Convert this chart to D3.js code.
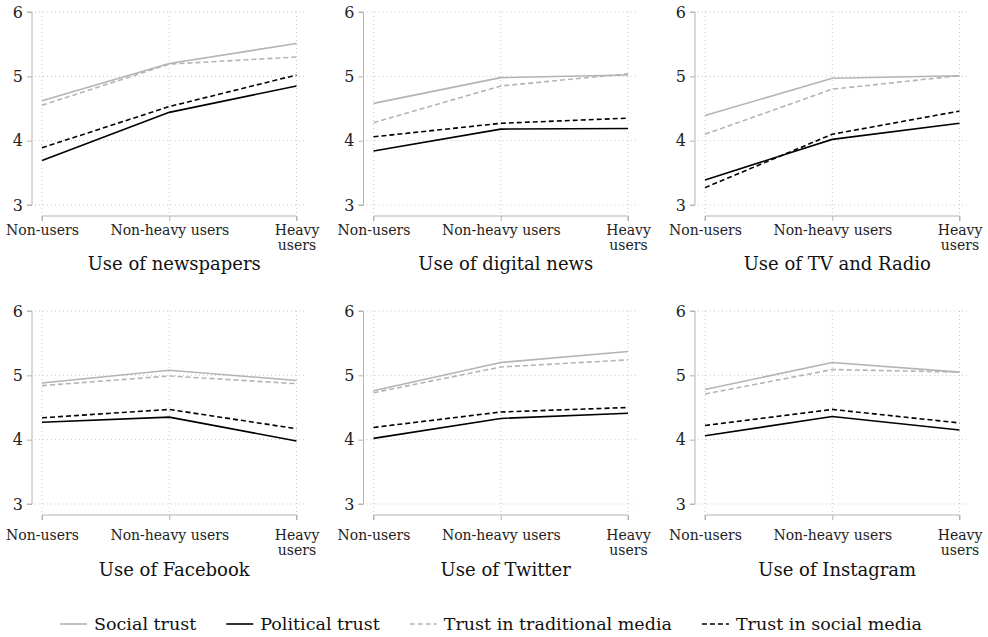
<!DOCTYPE html>
<html>
<head>
<meta charset="utf-8">
<script src="https://cdn.jsdelivr.net/npm/d3@7"></script>
<style>
  body { margin: 0; background: #fff; }
  svg { display: block; }
</style>
</head>
<body>
<div id="chart"></div>
<script>
const categories = ["Non-users", "Non-heavy users", "Heavy users"];
const panelTitles = ["Use of newspapers", "Use of digital news", "Use of TV and Radio",
                     "Use of Facebook", "Use of Twitter", "Use of Instagram"];
const yTicks = [3, 4, 5, 6];

// one row per panel, values for Non-users / Non-heavy users / Heavy users
const socialTrust = [
  [4.62, 5.20, 5.51],
  [4.58, 4.98, 5.02],
  [4.39, 4.97, 5.01],
  [4.88, 5.08, 4.92],
  [4.76, 5.20, 5.37],
  [4.78, 5.20, 5.05]
];
const politicalTrust = [
  [3.69, 4.44, 4.85],
  [3.84, 4.18, 4.19],
  [3.39, 4.02, 4.27],
  [4.27, 4.35, 3.98],
  [4.02, 4.33, 4.41],
  [4.06, 4.36, 4.15]
];
const traditionalMedia = [
  [4.55, 5.19, 5.30],
  [4.28, 4.85, 5.04],
  [4.10, 4.80, 5.01],
  [4.84, 4.99, 4.87],
  [4.73, 5.13, 5.24],
  [4.71, 5.09, 5.05]
];
const socialMedia = [
  [3.89, 4.53, 5.02],
  [4.06, 4.27, 4.35],
  [3.27, 4.10, 4.46],
  [4.34, 4.47, 4.17],
  [4.19, 4.43, 4.50],
  [4.22, 4.47, 4.26]
];

const series = [
  { name: "Social trust", values: socialTrust, color: "#b4b4b4", dash: null },
  { name: "Political trust", values: politicalTrust, color: "#000", dash: null },
  { name: "Trust in traditional media", values: traditionalMedia, color: "#b4b4b4", dash: "5,3" },
  { name: "Trust in social media", values: socialMedia, color: "#000", dash: "5,3" }
];

const W = 988, H = 637;
const font = "DejaVu Serif";
const axisGray = "#b4b4b4";

const svg = d3.select("#chart").append("svg")
  .attr("width", W).attr("height", H);

const colX = [32, 363.5, 695];
const rowY = [12, 311];
const labelPad = [4, 10];
const titleOffset = [54, 61];
const plotH = 193, plotW = 273;

panelTitles.forEach((title, i) => {
  const col = i % 3, row = Math.floor(i / 3);
  const g = svg.append("g")
    .attr("transform", `translate(${colX[col]},${rowY[row]})`);

  const x = d3.scalePoint().domain(categories).range([10, 264.5]);
  const y = d3.scaleLinear().domain([3, 6]).range([plotH, 0]);
  const axisY = plotH + 11;

  // gridlines
  g.append("g").selectAll("line.h")
    .data(yTicks).join("line")
    .attr("x1", 3).attr("x2", plotW)
    .attr("y1", d => y(d)).attr("y2", d => y(d))
    .attr("stroke", "#c8c8c8").attr("stroke-width", 1)
    .attr("stroke-dasharray", "1,3");
  g.append("g").selectAll("line.v")
    .data(categories).join("line")
    .attr("x1", d => x(d)).attr("x2", d => x(d))
    .attr("y1", 0).attr("y2", axisY)
    .attr("stroke", "#c8c8c8").attr("stroke-width", 1)
    .attr("stroke-dasharray", "1,3");

  // y axis
  const ya = g.append("g")
    .call(d3.axisLeft(y).tickValues(yTicks).tickSize(5).tickPadding(4).tickFormat(d3.format("d")));
  ya.select(".domain").attr("stroke", axisGray).attr("d", `M-5,${y(6)}H0V${y(3)}H-5`);
  ya.selectAll(".tick line").attr("stroke", axisGray);
  ya.selectAll(".tick text")
    .style("font-family", font).style("font-size", "16px").attr("fill", "#222");

  // x axis
  const xa = g.append("g").attr("transform", `translate(0,${axisY})`)
    .call(d3.axisBottom(x).tickSize(5).tickPadding(labelPad[row]));
  xa.select(".domain").attr("stroke", axisGray)
    .attr("d", `M${x(categories[0])},5V0H${x(categories[2])}V5`);
  xa.selectAll(".tick line").attr("stroke", axisGray);
  xa.selectAll(".tick text")
    .style("font-family", font).style("font-size", "14px").attr("fill", "#222")
    .each(function (d) {
      const t = d3.select(this);
      if (d === "Heavy users") {
        t.text(null);
        t.append("tspan").attr("x", 0).attr("dy", "0.71em").text("Heavy");
        t.append("tspan").attr("x", 0).attr("dy", "1.1em").text("users");
        t.attr("dy", null);
      }
    });

  // lines
  const line = d3.line()
    .x((d, j) => x(categories[j]))
    .y(d => y(d));

  series.forEach(s => {
    g.append("path")
      .datum(s.values[i])
      .attr("fill", "none")
      .attr("stroke", s.color)
      .attr("stroke-width", 1.6)
      .attr("stroke-dasharray", s.dash)
      .attr("d", line);
  });

  // panel title
  g.append("text")
    .attr("x", (x.range()[0] + x.range()[1]) / 2 + 5)
    .attr("y", axisY + titleOffset[row])
    .attr("text-anchor", "middle")
    .style("font-family", font).style("font-size", "18px").attr("fill", "#111")
    .text(title);
});

// legend
const legend = svg.append("g");
const keyW = 27, keyGap = 7, itemGap = 30;
let lx = 0;
series.forEach(s => {
  const item = legend.append("g").attr("transform", `translate(${lx},0)`);
  item.append("line")
    .attr("x1", 0).attr("x2", keyW).attr("y1", 0).attr("y2", 0)
    .attr("stroke", s.color).attr("stroke-width", 1.6)
    .attr("stroke-dasharray", s.dash);
  const t = item.append("text")
    .attr("x", keyW + keyGap).attr("dy", "0.35em")
    .style("font-family", font).style("font-size", "17.5px").attr("fill", "#111")
    .text(s.name);
  lx += keyW + keyGap + t.node().getComputedTextLength() + itemGap;
});
const legendW = lx - itemGap;
legend.attr("transform", `translate(${(57 + 925) / 2 - legendW / 2},624)`);
</script>
</body>
</html>
